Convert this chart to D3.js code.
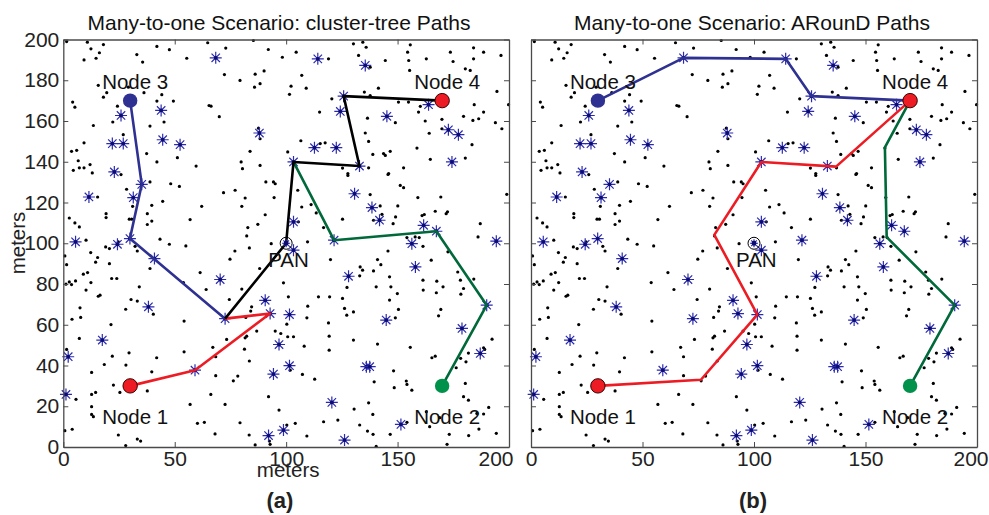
<!DOCTYPE html>
<html>
<head>
<meta charset="utf-8" />
<title>Many-to-one Scenario</title>
<style>
  body { margin: 0; background: #fff; }
  text { font-family: "Liberation Sans", Arial, Helvetica, sans-serif; }
</style>
</head>
<body>
<div id="container"></div>
<script src="https://cdn.jsdelivr.net/npm/d3@7/dist/d3.min.js"></script>
<script>

// tick values (meters)
var xTicks = [0, 50, 100, 150, 200];
var yTicks = [0, 20, 40, 60, 80, 100, 120, 140, 160, 180, 200];

// plain sensor nodes (black dots), same network in both panels
var sensors = [
  [1.5,199],[10.8,198.7],[18,197.5],[12.4,195.4],[16.2,193.5],[14.7,190.8],[9.3,190],[33,192.6],[35.6,188.9],
  [42,196.6],[47.6,195],[55.4,190.8],[64.8,198.4],[15.7,177.5],[18,171.7],[19.5,173.9],[29.2,176.6],[36.2,173.9],
  [42,169.8],[44.2,172.9],[49.4,169.8],[4.2,169.3],[5.2,166.8],[65.4,167.6],[24.3,167.3],[22.2,159.5],[13.5,157.8],
  [38.9,157.5],[45.2,159.5],[26.9,153.3],[9.3,149.3],[3.7,145.1],[6,145.6],[37.4,144],[51.2,142],[6.7,140.5],
  [12,138.6],[4.5,135.8],[7.2,137],[9.3,137],[13,134.5],[42,139.9],[59.6,137.9],
  [72.9,195.8],[85.3,199.5],[92,195.1],[104.5,193.8],[98.3,191.3],[119,190.5],[130.2,197.9],[72.3,182.8],[79.3,179.9],
  [86.1,183],[90.1,184.6],[85.8,176.6],[88.3,178.3],[107,182.4],[102.2,177.1],[101.5,173.1],[109,176.1],[120.5,170.9],
  [66.3,167.3],[70,162.1],[115,164.4],[87.6,156.5],[88.3,151.3],[106.6,150.3],[115.3,148.9],[117.5,149.3],[83.8,145.1],
  [100.7,144.8],[79.8,139.9],[80.4,136.6],[88.3,138.2],[125.3,136.9],[127.7,134.2],
  [134.4,198.7],[135.9,196.2],[132.5,192.2],[155.7,197.4],[154.5,193.8],[144.5,189.7],[155,189.7],[162.9,190.5],
  [173.7,193.8],[174.9,189.2],[184.1,195.9],[188.6,193.8],[184.1,190.5],[196.4,192.2],[155.4,184.8],[180.4,185.6],
  [182.6,184.8],[137.7,186.4],[141.4,176.1],[135.1,174.2],[137.7,172.5],[150.4,169.3],[154.9,169.3],[160.2,167.2],
  [159.4,164.4],[194.6,174.5],[199.8,168],[184.4,168],[188.6,164.4],[179.6,162.3],[183.8,160.3],[186.4,161.1],
  [193.9,159.2],[196.8,156.2],[136.5,161.4],[149,159.2],[162.4,160],[169.9,160.8],[135.5,154.1],[137,150],[164.2,154],
  [169.9,156.2],[183.4,148.4],[158.7,146.7],[146.7,145.1],[143.7,144],[144.5,143.1],[138.9,143.6],[164.7,141.2],
  [180.4,141.8],[137,137],[146,134.2],[152.7,137],
  [25.9,133.7],[38.9,130.1],[15.4,122.7],[28.4,126.5],[48.2,129.2],[52.1,127.9],[62.1,118.1],[44.6,120.6],[39.7,118.6],
  [31.1,118.1],[56.9,111.6],[19.2,114.5],[19.2,112.6],[37.7,114.5],[39.7,110.9],[37.7,109.2],[29.6,111.8],[30.7,111.8],
  [2.7,112.4],[5.2,110],[7.2,108],[43.4,102],[47.6,99.5],[55,98.7],[10.2,101.5],[19,98.2],[20.7,97.4],[24.7,100.7],
  [32.2,98.5],[33.2,96.2],[12.3,95.4],[0.7,93.8],[15.4,93],[14.5,90.7],[1.5,89.5],[20.7,90],[38.9,87.6],[10.9,85.6],
  [9,84.8],[12.4,80.7],[1.2,79.9],[2.7,81],[3.7,79.7],[5.5,81.5],[21.7,82.7],[24,82.7],[10.2,77],[16.5,74.5],
  [15.7,74],[34.1,78.6],[61.4,85.6],[53.9,80.7],[64.1,77.3],[30.4,72.4],[33.2,71.6],[7.5,68.3],[28,67.6],
  [90.9,130.1],[94.3,130.1],[95.1,129.2],[71.9,124.8],[77.1,126],[81.6,122.2],[80.1,118.1],[94.6,122.4],[90.6,114],
  [105.2,126],[107,117.8],[111.2,119],[113.5,114.9],[127.7,133.3],[125.3,111.8],[116.8,107.7],[105.5,110.5],[87.3,109.3],
  [82.8,107.7],[82.3,103.6],[83.5,97.7],[77,96.2],[74.8,92.2],[93.3,99.8],[109.6,100.7],[119.9,92],[88.1,87.6],
  [98.8,80.6],[80.1,77.5],[74.5,72.4],[101,73.7],[109.7,69.1],[114.5,73.7],[119.5,73.7],[125.3,72.9],[127.3,78.3],
  [84.5,68.8],[126.2,68],
  [145.7,133.8],[151.2,128.4],[152.7,127.3],[137.7,123.9],[159.1,122.4],[169.4,122.7],[199,124],[142.2,118.3],
  [150.1,118.3],[143,114.2],[139.2,111.3],[149.1,112.9],[148,109.6],[161,113.6],[162,114.1],[166.9,115.7],[171.8,114.5],
  [172.4,115.4],[187.1,109.6],[186.1,103.1],[154.2,102.8],[157.9,103.1],[159.7,102.8],[161.4,98.5],[145.7,96.2],
  [172.6,95.8],[165.1,91.7],[141,92],[142.5,89.5],[133.2,88.4],[134.3,86.8],[139.2,86.4],[133,84],[146.4,83.5],
  [161.4,81.9],[167.6,81.4],[177,85.9],[178.2,81.9],[184.2,82.4],[179.6,77.8],[140.4,78.6],[147,78.6],[161.5,77],
  [170.4,78.6],[149.9,75.3],[167.4,75.7],[178.4,75],[146.4,72.1],[150.4,67.5],[169.4,67.5],
  [3.9,62.7],[7.8,63.6],[40.4,65.2],[21.4,60.1],[54.2,61.8],[7.2,53.3],[1.5,47.9],[22,44.6],[29.5,46.2],[41.9,43.8],
  [54.2,46.7],[18.4,40.5],[28.1,40.2],[12.7,36.6],[39.7,36.9],[22.5,30.4],[25.4,26.8],[12.7,25.8],[14.5,26.8],
  [5.7,23.4],[12.7,19.8],[12.7,16],[13.5,14.9],[37.7,27.5],[56.9,20.9],[60.2,11.6],[63.3,12.1],[0.7,8],[4,8.7],
  [24.7,5.9],[33.2,3.9],[34.7,2.9],[28,0.7],
  [84.1,66.7],[81.9,63.6],[109.3,63.4],[130.2,66.3],[127.2,64.7],[100.3,60.3],[119,60.9],[95.1,56.9],[97.6,55.7],
  [86.8,56.9],[100.7,54.1],[103.3,54.1],[82.3,54.4],[81.6,53.6],[73.3,52.8],[119.3,54.4],[130.2,52.5],[67.1,48.9],
  [81.3,48],[108.1,49.5],[119.3,47.5],[68.4,44.3],[83.5,42.2],[101.8,37.7],[107.3,35.6],[112.8,33.3],[68.4,35],
  [78.3,34.8],[76.3,32.5],[66.2,25.8],[72.6,20.9],[92.1,24.7],[96.8,18.1],[130.5,18.6],[79.3,11.9],[100.3,10.8],
  [104.1,11.6],[116.8,12.4],[123.2,13.2],[68.1,6.4],[83.4,5.9],[109.3,5.4],[92.5,2.9],[92.8,1.3],[86.1,1],
  [149,63.4],[168.4,64.4],[141,50.5],[155.7,48.9],[192.4,52.9],[188.6,48.7],[189.1,47.9],[165.4,43.8],[166.9,44.6],
  [178.3,43.5],[180.7,41.8],[181.8,46.1],[176.3,38.9],[148.2,37.4],[139.5,32],[153.9,32.4],[154.2,30.7],[148.5,29.1],
  [156.4,27.9],[180.4,31.2],[179.6,24.7],[181.8,23],[137,21.7],[138.9,16],[162.9,17.3],[168.9,14.4],[185.6,16.5],
  [188.6,16.2],[190.9,19.4],[133,10.8],[136.5,7.8],[139,6.2],[154.2,12.1],[164.4,10],[146.7,6.2],[173.2,6.2],
  [181.9,5.6],[186.5,8.8],[194.3,6.7],[172.2,1.3],[140.4,0.3]
];

// router nodes (blue asterisks)
var routers = [
  [25.9,162.7],[43.9,165.2],[22,148.9],[26.9,148.9],[44.6,150.8],[52.4,148.4],[22.9,135],[68.4,191],[114.2,190.5],
  [88,154.1],[112.7,146.9],[122.5,146.9],[124.3,164.7],[125.8,172.2],[103.3,139.9],[135.5,187.3],[145.2,162.3],
  [163.9,168],[172.8,155.7],[177.3,153.3],[174.4,139.9],[132.9,137.9],[11.5,122.7],[31.4,122.4],[35.2,128.9],
  [5.5,100.7],[24.3,99.5],[29.9,102.3],[40.9,92.5],[38.2,68.8],[103.3,110.5],[103.3,96.6],[70.4,82.2],[90.6,72],
  [128,83.8],[130.7,124.3],[121.5,101.5],[138.5,117.5],[141.9,111.3],[161.7,108.8],[167.4,105.9],[156.4,99.8],
  [194.3,101],[158,88.4],[190,69.6],[17.5,52.5],[2.2,44.3],[1.2,25.8],[59.1,37.7],[92.8,65.5],[101.5,65],
  [96.8,50.3],[101.5,39.9],[94.3,35.8],[120.5,21.9],[98.8,8.3],[92.1,5.6],[126.2,3.4],[144.9,62.3],[178.9,58.2],
  [187.1,45.9],[136,39.4],[137.5,39.4],[151.5,11.1],[72.6,63]
];

var pan = [100, 100];
var nodeNames = ["Node 1", "Node 2", "Node 3", "Node 4"];
var nodeX = [30, 170, 30, 170];
var nodeY = [30, 30, 170, 170];

// (a) cluster-tree paths
var treeBlue  = [[30,170],[35.2,128.9],[29.9,102.3],[72.6,63]];
var treeBlack = [[72.6,63],[100,100],[103.3,139.9],[132.9,137.9],[125.8,172.2],[170,170]];
var treeGreen = [[170,30],[190,69.6],[167.4,105.9],[121.5,101.5],[103.3,139.9]];
var treeRed   = [[30,30],[59.1,37.7],[92.8,65.5],[72.6,63]];

// (b) ARounD paths
var aroundBlue  = [[30,170],[68.4,191],[114.2,190.5],[125.8,172.2],[170,170]];
var aroundRed   = [[30,30],[76.2,33],[101.5,65],[82.2,104.1],[103.3,139.9],[136.8,137.6],[170,170]];
var aroundGreen = [[170,30],[190,69.6],[159.5,103],[158.7,147],[170,170]];

var width = 989, height = 515;
var BLUE = "#2e3192", RED = "#ed1c24", GREEN = "#00693a", STAR = "#2b2bb0";

var svg = d3.select("#container").append("svg")
  .attr("width", width).attr("height", height)
  .style("background", "#fff");

var y = d3.scaleLinear().domain([0, 200]).range([447, 39.5]);

var starPath = "M-6,0H6M0,-6V6M-4.2,-4.2L4.2,4.2M-4.2,4.2L4.2,-4.2";

function drawPanel(x0, x1, title, titleX, label, labelX, lastTickEnd, paths, showY) {
  var x = d3.scaleLinear().domain([0, 200]).range([x0, x1]);
  var g = svg.append("g");
  var line = d3.line().x(function(d){ return x(d[0]); }).y(function(d){ return y(d[1]); });

  g.append("g").selectAll("circle").data(sensors).enter().append("circle")
    .attr("cx", function(d){ return x(d[0]); })
    .attr("cy", function(d){ return y(d[1]); })
    .attr("r", 1.6).attr("fill", "#000");

  var st = g.append("g").selectAll("g").data(routers).enter().append("g")
    .attr("transform", function(d){ return "translate(" + x(d[0]) + "," + y(d[1]) + ")"; });
  st.append("path").attr("d", starPath).attr("stroke", STAR).attr("stroke-width", 1.2).attr("fill", "none");
  st.append("circle").attr("r", 1.9).attr("fill", "#0c0c70");

  paths.forEach(function(p){
    g.append("path").datum(p[0]).attr("d", line)
      .attr("fill", "none").attr("stroke", p[1]).attr("stroke-width", 2.6)
      .attr("stroke-linejoin", "round");
  });

  // PAN coordinator
  var pg = g.append("g").attr("transform", "translate(" + x(pan[0]) + "," + y(pan[1]) + ")");
  pg.append("circle").attr("r", 6).attr("fill", "none").attr("stroke", "#000").attr("stroke-width", 1);
  pg.append("path").attr("d", "M-4,0H4M0,-4V4M-2.8,-2.8L2.8,2.8M-2.8,2.8L2.8,-2.8")
    .attr("stroke", STAR).attr("stroke-width", 1.2);
  pg.append("circle").attr("r", 2.4).attr("fill", "#0c0c70");

  var fills = [RED, "#00924a", BLUE, RED];
  var edges = ["#3a0000", "none", "none", "#3a0000"];
  nodeNames.forEach(function(n, i){
    g.append("circle").attr("cx", x(nodeX[i])).attr("cy", y(nodeY[i])).attr("r", 7.2)
      .attr("fill", fills[i]).attr("stroke", edges[i]).attr("stroke-width", 1);
    g.append("text").attr("x", x(nodeX[i]) - 28)
      .attr("y", y(nodeY[i]) + (nodeY[i] < 100 ? 38 : -12))
      .attr("font-size", 20.5).attr("fill", "#111").text(n);
  });
  g.append("text").attr("x", x(pan[0]) - 18).attr("y", y(pan[1]) + 24)
    .attr("font-size", 20.5).attr("fill", "#111").text("PAN");

  // axes box with inward ticks
  var ax = [
    d3.axisBottom(x).tickValues(xTicks).tickSize(-5).tickPadding(4),
    d3.axisTop(x).tickValues(xTicks).tickSize(-5).tickFormat(""),
    d3.axisLeft(y).tickValues(yTicks).tickSize(-5).tickPadding(4),
    d3.axisRight(y).tickValues(yTicks).tickSize(-5).tickFormat("")
  ];
  var tr = ["translate(0,447)", "translate(0,39.5)", "translate(" + x0 + ",0)", "translate(" + x1 + ",0)"];
  ax.forEach(function(a, i){
    if (i === 2 && !showY) a.tickFormat("");
    var ag = g.append("g").attr("transform", tr[i]).call(a.tickSizeOuter(0));
    ag.select(".domain").attr("stroke", "#4a4a4a").attr("stroke-width", 1.3);
    ag.selectAll(".tick line").attr("stroke", "#4a4a4a").attr("stroke-width", 1);
    ag.selectAll(".tick text").attr("font-size", 21).attr("fill", "#222")
      .attr("font-family", "'Liberation Sans', Arial, sans-serif");
    // last x label sits pulled in from the corner, as in the original
    if (i === 0) {
      ag.selectAll(".tick text").filter(function(d){ return d === 200; })
        .attr("text-anchor", "end").attr("x", lastTickEnd - x1);
    }
  });

  g.append("text").attr("x", titleX).attr("y", 30)
    .attr("text-anchor", "middle").attr("font-size", 21).attr("fill", "#111").text(title);
  g.append("text").attr("x", labelX).attr("y", 508)
    .attr("text-anchor", "middle").attr("font-size", 22).attr("font-weight", "bold")
    .attr("fill", "#222").text(label);
  if (showY) {
    g.append("text").attr("x", (x0 + x1) / 2 + 2).attr("y", 477)
      .attr("text-anchor", "middle").attr("font-size", 20.5).attr("fill", "#222").text("meters");
    g.append("text").attr("transform", "translate(25,243) rotate(-90)")
      .attr("text-anchor", "middle").attr("font-size", 20.5).attr("fill", "#222").text("meters");
  }
}

drawPanel(63.3, 509, "Many-to-one Scenario: cluster-tree Paths", 279, "(a)", 280, 513,
  [[treeBlue, BLUE], [treeGreen, GREEN], [treeRed, RED], [treeBlack, "#000"]], true);
drawPanel(531, 977, "Many-to-one Scenario: ARounD Paths", 752, "(b)", 753, 988,
  [[aroundBlue, BLUE], [aroundRed, RED], [aroundGreen, GREEN]], false);

</script>
</body>
</html>
